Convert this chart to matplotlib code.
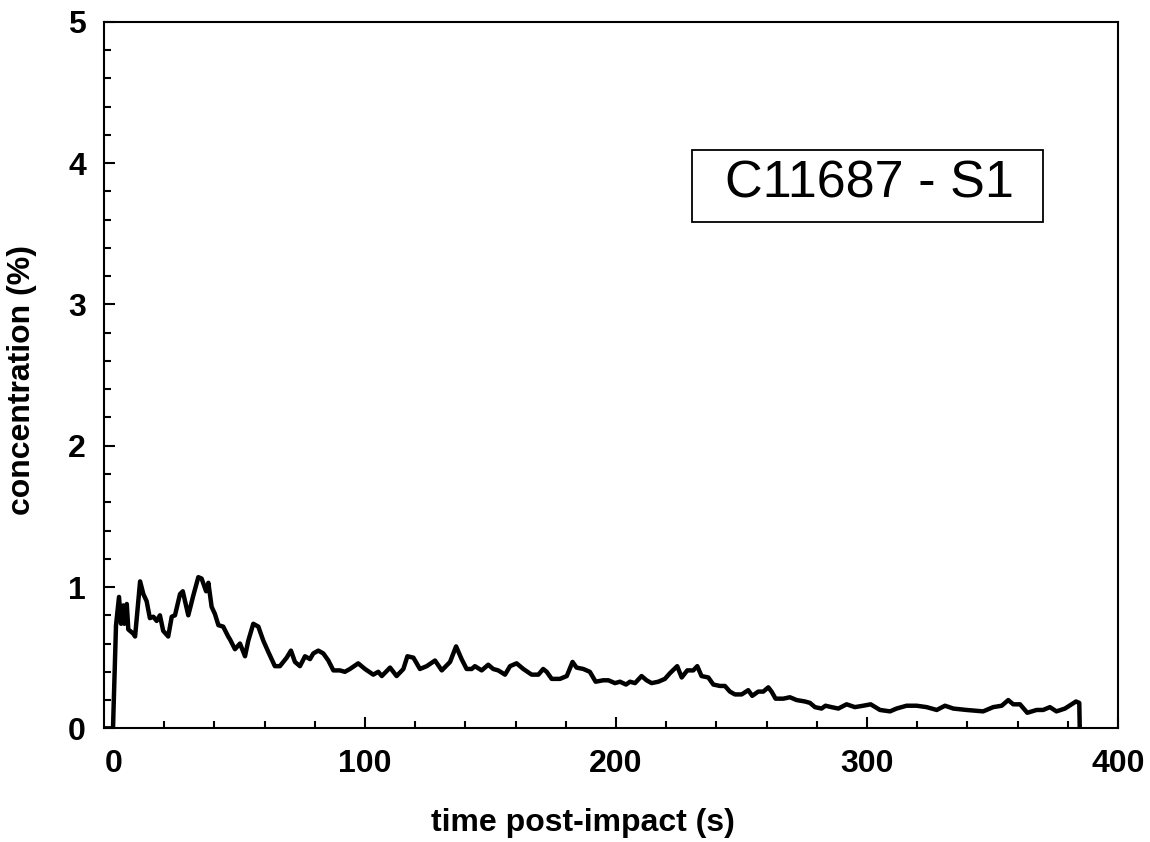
import numpy as np
import matplotlib.pyplot as plt
import matplotlib.ticker as ticker
from matplotlib.patches import Rectangle

plt.rcParams['font.family'] = ['Liberation Sans', 'DejaVu Sans']

# values
time_s = [-4, -0.4, 0.8, 2.0, 2.8, 3.7, 4.1, 5.1, 5.7, 7.7, 8.4, 10.4, 11.7, 13.0, 14.3,
          15.7, 17.0, 18.3, 19.6, 21.6, 23.0, 24.3, 26.3, 27.4, 29.6, 31.6, 33.6, 34.9,
          36.7, 37.6, 38.9, 40.2, 41.6, 43.5, 45.5, 46.2, 48.2, 50.2, 52.2, 53.5, 55.5,
          57.5, 59.5, 61.5, 64.1, 66.1, 68.8, 70.5, 72.1, 74.1, 76.1, 78.1, 79.4, 81.4,
          83.4, 85.4, 87.4, 90.0, 92.0, 94.0, 97.3, 100.0, 103.3, 105.3, 106.7, 110.0,
          112.6, 115.3, 116.9, 119.3, 121.9, 124.6, 127.9, 130.6, 133.9, 136.3, 138.5,
          140.5, 142.5, 143.8, 146.5, 149.1, 151.1, 153.1, 155.8, 157.8, 160.4, 163.1,
          166.4, 169.1, 171.0, 172.4, 174.4, 177.7, 180.4, 182.7, 184.3, 187.0, 189.6,
          191.9, 194.9, 197.0, 199.6, 201.6, 204.0, 205.6, 207.6, 210.2, 212.2, 214.2,
          216.9, 219.5, 221.5, 224.4, 226.2, 228.4, 230.8, 232.4, 234.1, 236.8, 238.8,
          241.4, 243.4, 245.4, 247.4, 250.1, 252.7, 254.3, 256.7, 258.7, 260.7, 262.0,
          263.6, 266.7, 269.3, 272.0, 275.3, 277.3, 279.3, 281.9, 283.5, 285.9, 288.6,
          291.9, 295.2, 298.5, 301.5, 305.2, 309.2, 311.8, 315.8, 319.8, 323.8, 327.8,
          331.1, 334.4, 339.7, 346.3, 350.3, 353.7, 356.3, 358.3, 361.0, 363.9, 367.6,
          370.2, 372.9, 375.5, 378.9, 381.5, 383.3, 384.6, 384.8]
conc_pct = [0, 0, 0.73, 0.93, 0.74, 0.87, 0.74, 0.88, 0.70, 0.67, 0.65, 1.04, 0.95, 0.90, 0.78,
            0.79, 0.76, 0.80, 0.69, 0.65, 0.79, 0.80, 0.95, 0.97, 0.80, 0.94, 1.07, 1.06,
            0.97, 1.03, 0.86, 0.81, 0.73, 0.72, 0.65, 0.63, 0.56, 0.60, 0.51, 0.62, 0.74,
            0.72, 0.62, 0.54, 0.44, 0.44, 0.50, 0.55, 0.47, 0.44, 0.51, 0.49, 0.53, 0.55,
            0.53, 0.48, 0.41, 0.41, 0.40, 0.42, 0.46, 0.42, 0.38, 0.40, 0.37, 0.43,
            0.37, 0.42, 0.51, 0.50, 0.42, 0.44, 0.48, 0.41, 0.47, 0.58, 0.49,
            0.42, 0.42, 0.44, 0.41, 0.45, 0.42, 0.41, 0.38, 0.44, 0.46, 0.42,
            0.38, 0.38, 0.42, 0.40, 0.35, 0.35, 0.37, 0.47, 0.43, 0.42, 0.40,
            0.33, 0.34, 0.34, 0.32, 0.33, 0.31, 0.33, 0.32, 0.37, 0.34, 0.32,
            0.33, 0.35, 0.39, 0.44, 0.36, 0.41, 0.41, 0.44, 0.37, 0.36, 0.31,
            0.30, 0.30, 0.26, 0.24, 0.24, 0.27, 0.23, 0.26, 0.26, 0.29, 0.26,
            0.21, 0.21, 0.22, 0.20, 0.19, 0.18, 0.15, 0.14, 0.16, 0.15, 0.14,
            0.17, 0.15, 0.16, 0.17, 0.13, 0.12, 0.14, 0.16, 0.16, 0.15, 0.13,
            0.16, 0.14, 0.13, 0.12, 0.15, 0.16, 0.20, 0.17, 0.17, 0.11, 0.13,
            0.13, 0.15, 0.12, 0.14, 0.17, 0.19, 0.18, 0]
sample_label = "C11687 - S1"

fig = plt.figure(figsize=(11.5, 8.42), dpi=100)
ax = fig.add_axes([0.0904, 0.135, 0.8817, 0.839])

ax.plot(time_s, conc_pct, color='black', lw=3.2, solid_joinstyle='round')

ax.set_xlim(-4, 400)
ax.set_ylim(0, 5)
ax.xaxis.set_major_locator(ticker.MultipleLocator(100))
ax.xaxis.set_minor_locator(ticker.MultipleLocator(20))
ax.yaxis.set_major_locator(ticker.MultipleLocator(1))
ax.yaxis.set_minor_locator(ticker.MultipleLocator(0.2))
ax.tick_params(which='both', direction='in', width=1.5, top=False, right=False)
ax.tick_params(which='major', length=8)
ax.tick_params(which='minor', length=5)
ax.tick_params(axis='x', which='major', pad=15, labelsize=23)
ax.tick_params(axis='y', which='major', pad=13, labelsize=23)
for lbl in ax.get_xticklabels() + ax.get_yticklabels():
    lbl.set_fontweight('bold')
for sp in ax.spines.values():
    sp.set_linewidth(1.5)

ax.set_xlabel("time post-impact (s)", fontsize=23, fontweight='bold')
ax.set_ylabel("concentration (%)", fontsize=23, fontweight='bold')
ax.xaxis.set_label_coords(0.472, -0.113)
ax.yaxis.set_label_coords(-0.066, 0.493)

# sample id box
ax.add_patch(Rectangle((0.580, 0.717), 0.346, 0.102, transform=ax.transAxes,
                       facecolor='white', edgecolor='black', lw=1.3, zorder=3))
ax.text(0.755, 0.770, sample_label, transform=ax.transAxes, fontsize=37.5,
        ha='center', va='center', zorder=4)

fig.savefig('out.png', dpi=100)
